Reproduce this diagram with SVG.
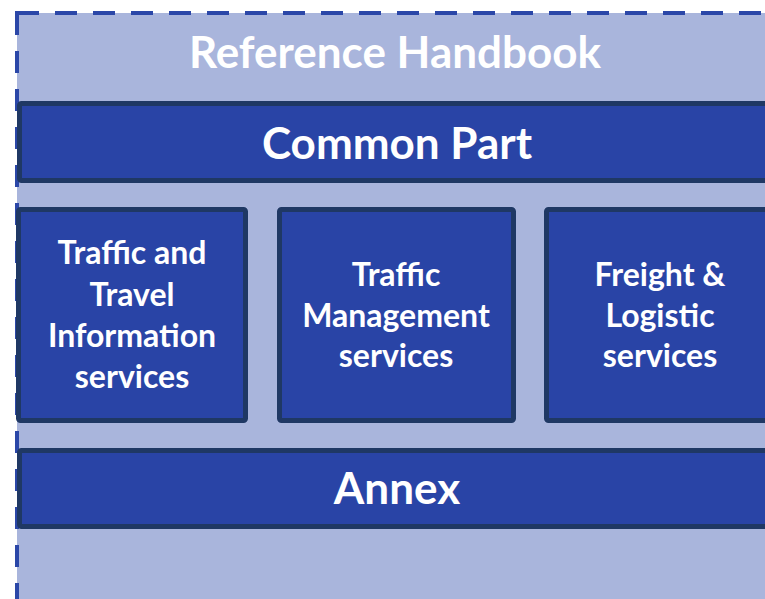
<svg xmlns="http://www.w3.org/2000/svg" width="765" height="599" viewBox="0 0 765 599">
<style>
.outer{fill:#A9B5DC;stroke:#2B47A8;stroke-width:4;stroke-dasharray:22 16}
.box{fill:#2944A6;stroke:#1F3864;stroke-width:5}
.t{font-family:Lato,"Open Sans",sans-serif;font-weight:bold;fill:#FFFFFF;text-anchor:middle}
.big{font-size:44px}
.mid{font-size:32px}
</style>
<rect width="765" height="599" fill="#FFFFFF"/>
<g id="handbook">
<rect class="outer" x="17" y="13" width="760" height="600"/>
<text class="t big" x="395" y="68">Reference Handbook</text>
</g>
<g id="common">
<rect class="box" x="19.5" y="103.5" width="760" height="77" rx="2"/>
<text class="t big" x="397" y="159">Common Part</text>
</g>
<g id="tti">
<rect class="box" x="18.5" y="209.5" width="227" height="211" rx="2"/>
<text class="t mid" x="132" y="264">Traffic and</text>
<text class="t mid" x="132" y="306">Travel</text>
<text class="t mid" x="132" y="347">Information</text>
<text class="t mid" x="132" y="388">services</text>
</g>
<g id="tm">
<rect class="box" x="279.5" y="209.5" width="234" height="211" rx="2"/>
<text class="t mid" x="396" y="286">Traffic</text>
<text class="t mid" x="396" y="327">Management</text>
<text class="t mid" x="396" y="367">services</text>
</g>
<g id="freight">
<rect class="box" x="546.5" y="209.5" width="234" height="211" rx="2"/>
<text class="t mid" x="660" y="286">Freight &amp;</text>
<text class="t mid" x="660" y="327">Logistic</text>
<text class="t mid" x="660" y="367">services</text>
</g>
<g id="annex">
<rect class="box" x="19.5" y="450.5" width="760" height="76" rx="2"/>
<text class="t big" x="397" y="504">Annex</text>
</g>
<g id="connectors"></g>
</svg>
